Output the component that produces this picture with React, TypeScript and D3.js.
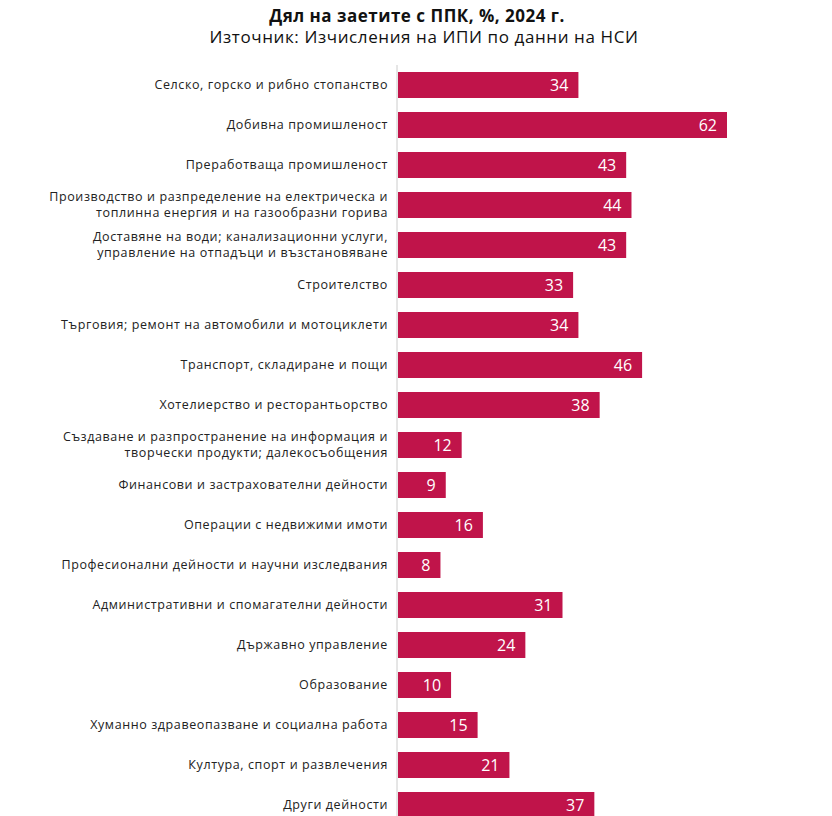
import React from "react";
import * as d3 from "d3";

const categories: string[][] = [
  ["Селско, горско и рибно стопанство"],
  ["Добивна промишленост"],
  ["Преработваща промишленост"],
  ["Производство и разпределение на електрическа и", "топлинна енергия  и на газообразни горива"],
  ["Доставяне на води; канализационни услуги,", "управление на отпадъци и възстановяване"],
  ["Строителство"],
  ["Търговия; ремонт на автомобили и мотоциклети"],
  ["Транспорт, складиране и пощи"],
  ["Хотелиерство и ресторантьорство"],
  ["Създаване и разпространение на информация и", "творчески продукти; далекосъобщения"],
  ["Финансови и застрахователни дейности"],
  ["Операции с недвижими имоти"],
  ["Професионални дейности и научни изследвания"],
  ["Административни и спомагателни дейности"],
  ["Държавно управление"],
  ["Образование"],
  ["Хуманно здравеопазване и социална работа"],
  ["Култура, спорт и развлечения"],
  ["Други дейности"],
];
const values: number[] = [34, 62, 43, 44, 43, 33, 34, 46, 38, 12, 9, 16, 8, 31, 24, 10, 15, 21, 37];
const title = "Дял на заетите с ППК, %, 2024 г.";
const subtitle = "Източник: Изчисления на ИПИ по данни на НСИ";

const W = 832;
const H = 816;
const x0 = 398;
const top = 65;
const step = 40;

export default function App() {
  const ids = categories.map((_, i) => String(i));
  const y = d3
    .scaleBand<string>()
    .domain(ids)
    .range([top, top + step * ids.length])
    .paddingInner(0.35)
    .paddingOuter(0.175);
  const x = d3.scaleLinear().domain([0, 62]).range([x0, 727]);
  const font = "'Open Sans', 'DejaVu Sans', sans-serif";
  return (
    <svg
      width={W}
      height={H}
      style={{ position: "absolute", left: 0, top: 0, background: "#fff" }}
      fontFamily={font}
    >
      <text x={417} y={22} textAnchor="middle" fontSize={17} fontWeight={700} fill="#111" letterSpacing={0.5}>
        {title}
      </text>
      <text x={424} y={43} textAnchor="middle" fontSize={17} fill="#111" letterSpacing={0.6}>
        {subtitle}
      </text>
      <line x1={x0 - 1} x2={x0 - 1} y1={top} y2={H} stroke="#ccc" strokeWidth={1} />
      {values.map((v, i) => {
        const yy = y(String(i))!;
        const bw = y.bandwidth();
        const cy = yy + bw / 2;
        const lines = categories[i];
        return (
          <g key={i}>
            <rect x={x(0)} y={yy} width={x(v) - x(0)} height={bw} fill="#c0144a" />
            <text
              x={x(v) - 10}
              y={cy}
              dy="0.35em"
              textAnchor="end"
              fontSize={16}
              fill="#fff"
            >
              {v}
            </text>
            <text textAnchor="end" fontSize={12.5} fill="#222" letterSpacing={0.6}>
              {lines.map((l, j) => (
                <tspan
                  key={j}
                  x={388}
                  y={cy + (j - (lines.length - 1) / 2) * 16}
                  dy="0.35em"
                >
                  {l}
                </tspan>
              ))}
            </text>
          </g>
        );
      })}
    </svg>
  );
}
